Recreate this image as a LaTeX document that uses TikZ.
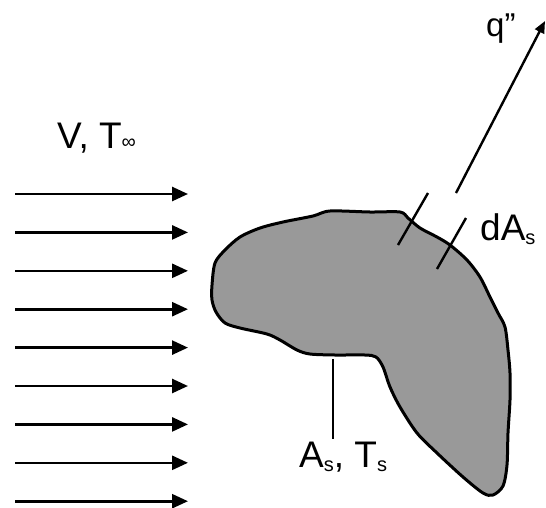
\documentclass[tikz,border=0pt]{standalone}
\usepackage{fontspec}
\setmainfont{Liberation Sans}
\usetikzlibrary{arrows.meta}
\newcommand\mysub[1]{\raisebox{-4pt}{\fontsize{20}{20}\selectfont #1}}
\newcommand\myinf{\raisebox{0pt}{\fontsize{20}{20}\selectfont ∞}}
\begin{document}
\begin{tikzpicture}[x=1pt,y=-1pt,
  flow/.style={line width=2.6pt, -{Triangle[length=16pt,width=14pt]}},
  heat/.style={line width=2.4pt, -{Triangle[length=12pt,width=10pt]}},
  lead/.style={line width=2.4pt},
  body/.style={fill=black!40, draw=black, line width=3pt},
  lbl/.style={inner sep=0pt, anchor=base west, font=\fontsize{37}{40}\selectfont},
  qlbl/.style={inner sep=0pt, anchor=base west, font=\fontsize{33}{36}\selectfont},
]
\useasboundingbox (0,0) rectangle (546,507);

% free-stream arrows
\foreach \i in {0,...,8} {
  \pgfmathsetmacro\yy{194+38.4*\i}
  \coordinate (fs\i) at (15,\yy);
  \coordinate (fe\i) at (188,\yy);
  \draw[flow] (fs\i) -- (fe\i);
}

% body
\draw[body] plot[smooth cycle, tension=0.5] coordinates {
  (212,285) (215,263) (225,250) (240,237) (260,228) (283,222) (313,216)
  (330,211) (370,212) (400,212) (408,218) (420,228) (437,237) (450,245)
  (467,260) (480,277) (490,297) (498,313) (505,327) (508,350) (510,373)
  (510,400) (508,433) (507,465) (503,486) (493,495) (483,493) (463,477)
  (437,453) (417,433) (400,407) (390,387) (383,367) (376,357) (365,355)
  (335,355) (310,354) (297,350) (280,340) (267,334) (240,328) (225,323)
  (216,312) (212,300)};

% heat flux arrow and surface normals
\coordinate (qs) at (456,193);
\coordinate (qe) at (545,21);
\draw[heat] (qs) -- (qe);
\coordinate (n1a) at (428,193);
\coordinate (n1b) at (398,245);
\draw[lead] (n1a) -- (n1b);
\coordinate (n2a) at (466,218);
\coordinate (n2b) at (437,269);
\draw[lead] (n2a) -- (n2b);

% A_s leader
\coordinate (la) at (333,359);
\coordinate (lb) at (333,439);
\draw[lead] (la) -- (lb);

% labels
\node[lbl] (vlabel) at (57,148) {V, T\myinf};
\node[lbl] (aslabel) at (299,467) {A\mysub{s}, T\mysub{s}};
\node[lbl] (dalabel) at (480,240) {dA\mysub{s}};
\node[qlbl] (qlabel) at (486,36) {q”};
\end{tikzpicture}
\end{document}
